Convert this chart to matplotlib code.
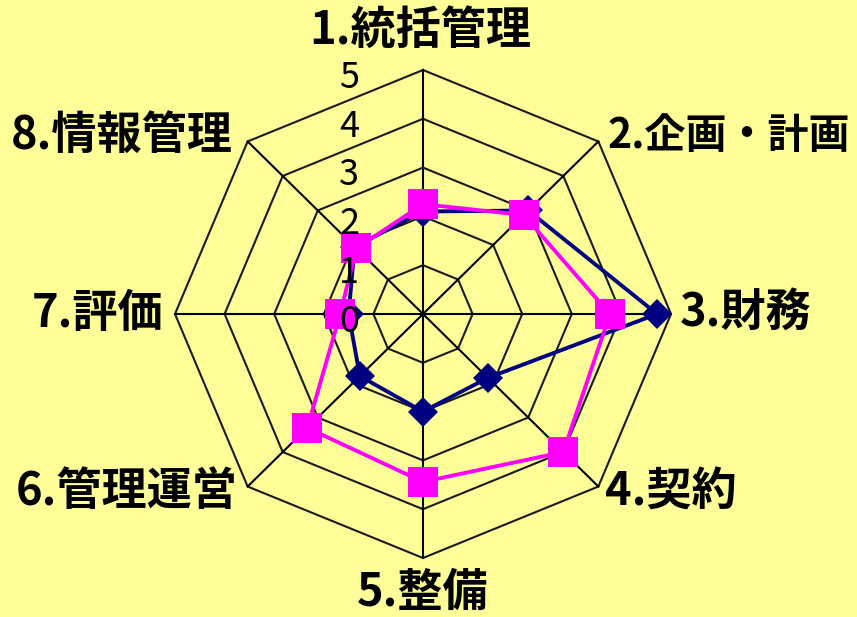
import numpy as np
import matplotlib
matplotlib.use("Agg")
import matplotlib.pyplot as plt

plt.rcParams['font.family'] = ['Noto Sans CJK JP', 'DejaVu Sans']

categories = ["1.統括管理", "2.企画・計画", "3.財務", "4.契約", "5.整備", "6.管理運営", "7.評価", "8.情報管理"]
series_blue = [2.1, 3.0, 4.72, 1.85, 2.0, 1.8, 1.5, 1.95]
series_pink = [2.25, 2.87, 3.77, 4.0, 3.44, 3.3, 1.67, 1.9]
tick_values = [0, 1, 2, 3, 4, 5]
tick_labels = ["0", "1", "2", "3", "4", "5"]

BG = "#FFFF99"
BLUE = "#000080"
PINK = "#FF00FF"

n = len(categories)
angles = np.deg2rad(90 - 360.0 / n * np.arange(n))

def to_xy(vals):
    v = np.asarray(vals, dtype=float)
    x = v * np.cos(angles)
    y = v * np.sin(angles)
    return np.append(x, x[0]), np.append(y, y[0])

fig = plt.figure(figsize=(8.57, 6.17), dpi=100)
fig.patch.set_facecolor(BG)
ax = fig.add_axes([0, 0, 1, 1])
ax.set_facecolor(BG)
sx, sy = 49.6, 48.8
cx, cy = 423, 314
ax.set_xlim(-cx / sx, (857 - cx) / sx)
ax.set_ylim(-(617 - cy) / sy, cy / sy)
ax.axis('off')

rmax = max(tick_values)
# grid octagons
for t in tick_values[1:]:
    gx, gy = to_xy([t] * n)
    ax.plot(gx, gy, color='#1a1a1a', lw=1.5, zorder=1)
# spokes
for a in angles:
    ax.plot([0, rmax * np.cos(a)], [0, rmax * np.sin(a)], color='black', lw=1.5, zorder=1)

bx, by = to_xy(series_blue)
ax.plot(bx, by, color=BLUE, lw=2.8, marker='D', markersize=15.5, markeredgewidth=0,
        zorder=3)
px, py = to_xy(series_pink)
ax.plot(px, py, color=PINK, lw=2.8, marker='s', markersize=21, markeredgewidth=0,
        zorder=4)

# tick labels
for v, lab in zip(tick_values, tick_labels):
    ax.text(-1.49, v - 0.16, lab, ha='center', va='center', fontsize=26, color='black', zorder=5)

# category labels
label_pos = [(-0.06, 5.80, 'center'), (3.73, 3.65, 'left'), (5.18, 0.02, 'left'),
             (3.67, -3.67, 'left'), (0.0, -5.72, 'center'), (-3.73, -3.65, 'right'),
             (-5.24, 0.0, 'right'), (-3.83, 3.65, 'right')]
label_sizes = [32.5, 29.5, 32.5, 32.5, 32.5, 32.5, 32.5, 32.5]
for lab, (x, y, ha), fs in zip(categories, label_pos, label_sizes):
    ax.text(x, y, lab, ha=ha, va='center', fontsize=fs, fontweight='bold', color='black', zorder=5)

fig.savefig("out.png", dpi=100, facecolor=BG)
